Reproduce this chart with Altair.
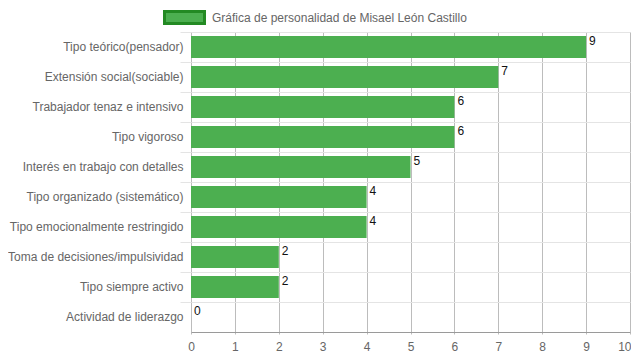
import altair as alt
import pandas as pd

categories = [
    "Tipo teórico(pensador)",
    "Extensión social(sociable)",
    "Trabajador tenaz e intensivo",
    "Tipo vigoroso",
    "Interés en trabajo con detalles",
    "Tipo organizado (sistemático)",
    "Tipo emocionalmente restringido",
    "Toma de decisiones/impulsividad",
    "Tipo siempre activo",
    "Actividad de liderazgo",
]
values = [9, 7, 6, 6, 5, 4, 4, 2, 2, 0]
series_name = "Gráfica de personalidad de Misael León Castillo"

df = pd.DataFrame({"cat": categories, "val": values, "serie": [series_name] * len(values)})

FONT = "Liberation Sans"

y_enc = alt.Y(
    "cat:N",
    sort=categories,
    title=None,
    scale=alt.Scale(paddingInner=0, paddingOuter=0),
    axis=alt.Axis(
        bandPosition=0,
        grid=True,
        gridColor="#e4e4e4",
        tickColor="#e4e4e4",
        tickSize=11,
        domain=False,
        labelPadding=-3,
        labelColor="#666666",
        labelFontSize=12,
        labelFont=FONT,
        labelLimit=300,
    ),
)

x_enc = alt.X(
    "val:Q",
    title=None,
    scale=alt.Scale(domain=[0, 10], nice=False),
    axis=alt.Axis(
        values=list(range(0, 11)),
        grid=True,
        gridColor="#bcbcbc",
        tickColor="#bcbcbc",
        tickSize=2,
        labelPadding=7,
        domainColor="#9a9a9a",
        labelColor="#666666",
        labelFontSize=12,
        labelFont=FONT,
        labelFlush=False,
        labelAlign={"condition": {"test": "datum.value == 10", "value": "right"}, "value": "center"},
        labelOffset={"condition": {"test": "datum.value == 10", "value": 1}, "value": 0},
    ),
)

bars = alt.Chart(df).mark_bar(height=22).encode(
    y=y_enc,
    x=x_enc,
    color=alt.Color(
        "serie:N",
        scale=alt.Scale(range=["#4CAF50"]),
        legend=alt.Legend(
            title=None,
            orient="none",
            legendX=-28,
            legendY=-36,
            direction="horizontal",
            symbolType="M-1,-0.3H1V0.3H-1Z",
            symbolSize=1600,
            symbolStrokeColor="#238a23",
            symbolStrokeWidth=3,
            symbolOpacity=1,
            labelColor="#666666",
            labelFontSize=12,
            labelFont=FONT,
            labelOffset=6,
            labelLimit=400,
            padding=0,
        ),
    ),
)

labels = alt.Chart(df).mark_text(
    align="left", baseline="top", dx=3, dy=-11, fontSize=12, font=FONT, color="#111111"
).encode(
    y=alt.Y("cat:N", sort=categories),
    x=alt.X("val:Q"),
    text=alt.Text("val:Q"),
)

chart = (
    alt.layer(bars, labels)
    .properties(
        width=439,
        height=300,
        autosize=alt.AutoSizeParams(type="none"),
        padding={"left": 183, "top": 24, "right": 1, "bottom": 20},
    )
    .configure_view(stroke=None)
    .configure(font=FONT)
)

chart.save("out.html", embed_options={"renderer": "svg", "actions": False})
